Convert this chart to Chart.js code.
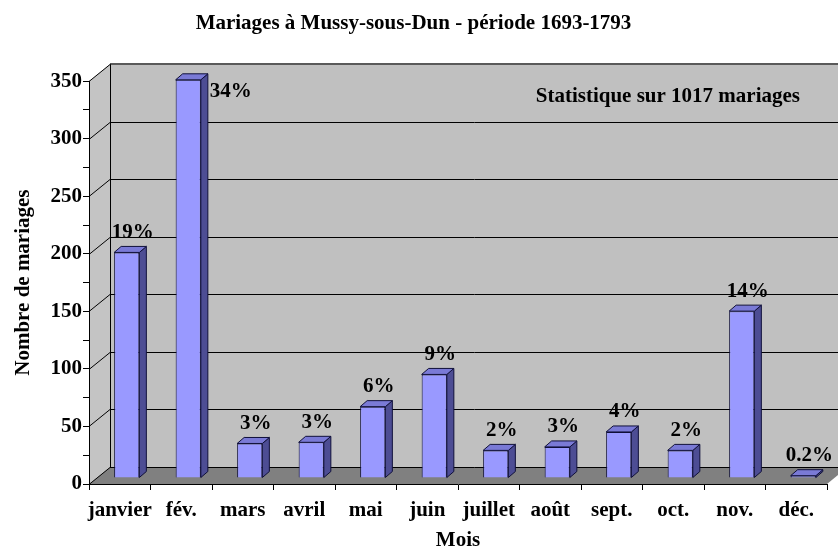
<!DOCTYPE html>
<html>
<head>
<meta charset="utf-8">
<script src="https://cdn.jsdelivr.net/npm/chart.js@4.4.1/dist/chart.umd.min.js"></script>
<style>
  html, body { margin: 0; padding: 0; background: #ffffff; }
  canvas { display: block; }
</style>
</head>
<body>
<canvas id="chart" width="838" height="551"></canvas>
<script>
const months = ["janvier", "fév.", "mars", "avril", "mai", "juin", "juillet", "août", "sept.", "oct.", "nov.", "déc."];
const mariages = [196, 346, 30, 31, 62, 90, 24, 27, 40, 24, 145, 2];
const percentLabels = ["19%", "34%", "3%", "3%", "6%", "9%", "2%", "3%", "4%", "2%", "14%", "0.2%"];
const yMax = 350;
const yMajorStep = 50;
const yMinorStep = 25;
const titleText = "Mariages à Mussy-sous-Dun - période 1693-1793";
const noteText = "Statistique sur 1017 mariages";

const FONT = "'Liberation Serif', 'Times New Roman', serif";
const FONT_SIZE = 21;

// 3D look: wall depth, bar set-back and bar depth (pixels)
const WALL_DX = 21, WALL_DY = -17;
const BAR_OFF_X = 7, BAR_OFF_Y = -6;
const BAR_DX = 7, BAR_DY = -6;

function poly(ctx, pts, fill, stroke) {
  ctx.beginPath();
  pts.forEach(([x, y], i) => (i ? ctx.lineTo(x, y) : ctx.moveTo(x, y)));
  ctx.closePath();
  if (fill) { ctx.fillStyle = fill; ctx.fill(); }
  if (stroke) { ctx.strokeStyle = stroke; ctx.lineWidth = 1; ctx.stroke(); }
}

const box3d = {
  id: "box3d",
  beforeDraw(chart) {
    const { ctx, chartArea: a, scales: { y } } = chart;
    const L = a.left, R = a.right, T = a.top, B = a.bottom;
    ctx.save();
    // back wall
    poly(ctx, [[L + WALL_DX, T + WALL_DY], [R + WALL_DX, T + WALL_DY], [R + WALL_DX, B + WALL_DY], [L + WALL_DX, B + WALL_DY]], "#c0c0c0");
    // left wall
    poly(ctx, [[L, T], [L + WALL_DX, T + WALL_DY], [L + WALL_DX, B + WALL_DY], [L, B]], "#c4c4c4");
    // floor
    poly(ctx, [[L, B], [R, B], [R + WALL_DX, B + WALL_DY], [L + WALL_DX, B + WALL_DY]], "#808080");

    // grid lines on walls
    ctx.strokeStyle = "#000000";
    ctx.lineWidth = 1;
    for (let v = 0; v <= yMax; v += yMajorStep) {
      const py = Math.round(y.getPixelForValue(v)) + 0.5;
      ctx.beginPath();
      ctx.moveTo(L, py);
      ctx.lineTo(L + WALL_DX, py + WALL_DY);
      ctx.lineTo(R + WALL_DX + 20, py + WALL_DY);
      ctx.stroke();
    }
    // wall top edge, slightly heavier
    ctx.strokeStyle = "#5a5a5a";
    ctx.lineWidth = 2;
    ctx.beginPath();
    ctx.moveTo(L + WALL_DX, Math.round(T + WALL_DY));
    ctx.lineTo(R + WALL_DX + 20, Math.round(T + WALL_DY));
    ctx.stroke();
    // back vertical edge of left wall
    ctx.strokeStyle = "#000000";
    ctx.lineWidth = 1;
    ctx.beginPath();
    ctx.moveTo(L + WALL_DX + 0.5, T + WALL_DY);
    ctx.lineTo(L + WALL_DX + 0.5, B + WALL_DY);
    ctx.stroke();
    ctx.restore();
  },
  beforeDatasetsDraw(chart) {
    chart.ctx.save();
    chart.ctx.translate(BAR_OFF_X, BAR_OFF_Y);
  },
  afterDatasetsDraw(chart) {
    const { ctx, chartArea: a } = chart;
    const meta = chart.getDatasetMeta(0);
    meta.data.forEach((bar) => {
      const { x, y, base, width } = bar.getProps(["x", "y", "base", "width"], true);
      const l = x - width / 2, r = x + width / 2;
      poly(ctx, [[r, y], [r + BAR_DX, y + BAR_DY], [r + BAR_DX, base + BAR_DY], [r, base]], "#4d4d94", "#10103a");
      poly(ctx, [[l, y], [r, y], [r + BAR_DX, y + BAR_DY], [l + BAR_DX, y + BAR_DY]], "#7a7ad6", "#10103a");
    });
    ctx.restore();

    // percentage labels
    ctx.save();
    ctx.font = `bold ${FONT_SIZE}px ${FONT}`;
    ctx.fillStyle = "#000000";
    ctx.textBaseline = "middle";
    meta.data.forEach((bar, i) => {
      const { x, y, width } = bar.getProps(["x", "y", "width"], true);
      const ly = y - 26;
      if (ly - 10 < a.top + WALL_DY) {
        ctx.textAlign = "left";
        ctx.fillText(percentLabels[i], x + width / 2 + BAR_OFF_X + BAR_DX + 2, y + 6);
      } else {
        ctx.textAlign = "center";
        ctx.fillText(percentLabels[i], x + 13, ly);
      }
    });
    ctx.restore();
  },
  afterDraw(chart) {
    const { ctx } = chart;
    ctx.save();
    ctx.font = `bold ${FONT_SIZE}px ${FONT}`;
    ctx.fillStyle = "#000000";
    ctx.textAlign = "right";
    ctx.textBaseline = "middle";
    ctx.fillText(noteText, 800, 97);
    ctx.restore();
  },
};

new Chart(document.getElementById("chart"), {
  type: "bar",
  data: {
    labels: months,
    datasets: [{
      data: mariages,
      backgroundColor: "#9999ff",
      borderColor: "#10103a",
      borderWidth: 1,
      categoryPercentage: 1,
      barPercentage: 0.41,
      clip: false,
    }],
  },
  plugins: [box3d],
  options: {
    responsive: false,
    devicePixelRatio: 1,
    animation: false,
    layout: { padding: { left: 0, right: 11, top: 0, bottom: 0 } },
    plugins: {
      legend: { display: false },
      tooltip: { enabled: false },
      title: {
        display: true,
        text: titleText,
        color: "#000000",
        font: { family: FONT, size: FONT_SIZE, weight: "bold", lineHeight: 1.2 },
        padding: { top: 11, bottom: 45 },
      },
    },
    scales: {
      x: {
        afterFit: (scale) => { scale.height = 67; },
        grid: { offset: true, drawOnChartArea: false, tickLength: 6, color: "#000000" },
        border: { display: true, color: "#000000", width: 1 },
        ticks: { color: "#000000", padding: 8, maxRotation: 0, autoSkip: false, font: { family: FONT, size: FONT_SIZE, weight: "bold" } },
        title: { display: true, text: "Mois", color: "#000000", padding: 0, font: { family: FONT, size: FONT_SIZE, weight: "bold", lineHeight: 1 } },
      },
      y: {
        min: 0,
        max: yMax,
        afterFit: (scale) => { scale.width = 89; },
        grid: { drawOnChartArea: false, tickLength: 6, color: "#000000" },
        border: { display: true, color: "#000000", width: 1 },
        ticks: {
          stepSize: yMinorStep,
          padding: 1,
          color: "#000000",
          font: { family: FONT, size: FONT_SIZE, weight: "bold" },
          callback: (v) => (v % yMajorStep === 0 ? v : ""),
        },
        title: { display: true, text: "Nombre de mariages", color: "#000000", padding: { top: 11, bottom: 0 }, font: { family: FONT, size: FONT_SIZE, weight: "bold", lineHeight: 1.2 } },
      },
    },
  },
});
</script>
</body>
</html>
